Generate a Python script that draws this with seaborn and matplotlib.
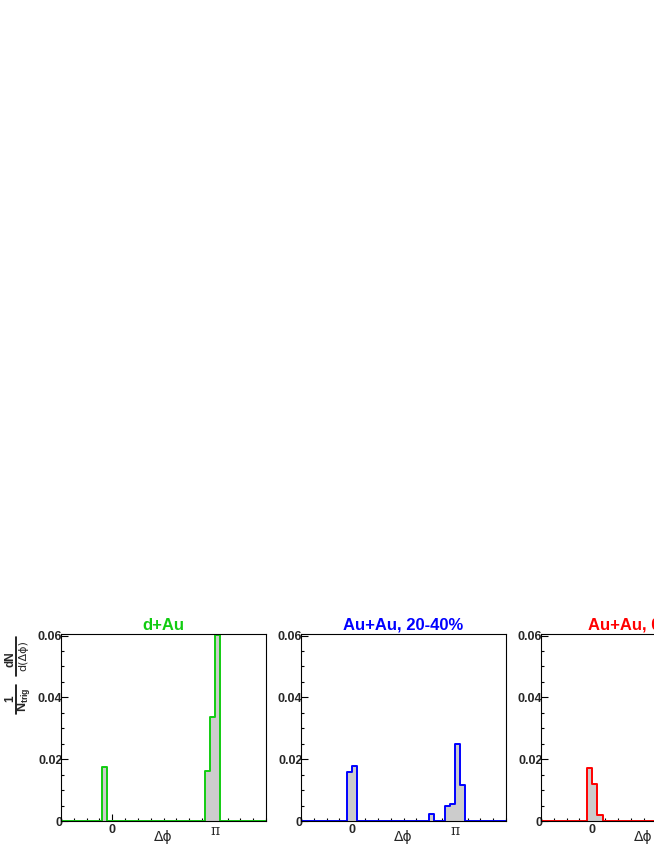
import numpy as np
import pandas as pd
import matplotlib
matplotlib.use('Agg')
import matplotlib.pyplot as plt
import seaborn as sns
from matplotlib.ticker import MultipleLocator
from matplotlib.lines import Line2D

sns.set_style('ticks')
plt.rcParams['font.family'] = ['Liberation Sans', 'DejaVu Sans']
plt.rcParams['mathtext.fontset'] = 'custom'
plt.rcParams['mathtext.bf'] = 'Liberation Sans:bold'
plt.rcParams['mathtext.rm'] = 'Liberation Sans'

# 40 bins of pi/20 from -pi/2 to 3pi/2
phi_edges = -np.pi / 2 + np.arange(41) * np.pi / 20
phi_centers = 0.5 * (phi_edges[:-1] + phi_edges[1:])

# per-trigger yields
dau = [0, 0, 0, 0, 0, 0, 0, 0, 0.0175, 0,
       0, 0, 0, 0, 0, 0, 0, 0, 0, 0,
       0, 0, 0, 0, 0, 0, 0, 0, 0.0162, 0.0335,
       0.0601, 0, 0, 0, 0, 0, 0, 0, 0, 0]
auau_2040 = [0, 0, 0, 0, 0, 0, 0, 0, 0, 0.0160,
             0.0178, 0, 0, 0, 0, 0, 0, 0, 0, 0,
             0, 0, 0, 0, 0, 0.0024, 0, 0, 0.0050, 0.0054,
             0.0250, 0.0115, 0, 0, 0, 0, 0, 0, 0, 0]
auau_central = [0, 0, 0, 0, 0, 0, 0, 0, 0, 0.0170,
                0.0121, 0.0021, 0, 0, 0, 0, 0, 0, 0, 0,
                0, 0, 0, 0, 0, 0, 0, 0, 0, 0,
                0, 0, 0, 0, 0, 0, 0, 0, 0, 0]

titles = ['d+Au', 'Au+Au, 20-40%', 'Au+Au, 0-10%']
colors = ['#11cc11', '#0000ff', '#ff0000']
series = [dau, auau_2040, auau_central]

W, H = 654, 846
fig = plt.figure(figsize=(W / 100, H / 100), dpi=100)
lefts = [61, 301, 541]

for left, title, color, vals in zip(lefts, titles, colors, series):
    ax = fig.add_axes([left / W, 25 / H, 205 / W, 187 / H])
    df = pd.DataFrame({'dphi': phi_centers, 'yield': vals})
    # grey fill, then coloured step outline on top
    sns.histplot(data=df, x='dphi', weights='yield', bins=list(phi_edges),
                 element='bars', fill=True, color='#cccccc', alpha=1,
                 edgecolor='none', linewidth=0, ax=ax)
    sns.histplot(data=df, x='dphi', weights='yield', bins=list(phi_edges),
                 element='step', fill=False, color=color, linewidth=1.4, ax=ax)
    ax.set_xlim(-np.pi / 2, 3 * np.pi / 2)
    ax.set_ylim(0, 0.0605)
    ax.set_xlabel('')
    ax.set_ylabel('')
    ax.set_xticks([0, np.pi])
    ax.set_xticklabels(['0', 'π'])
    ax.xaxis.set_minor_locator(MultipleLocator(np.pi / 8))
    ax.set_yticks([0, 0.02, 0.04, 0.06])
    ax.set_yticklabels(['0', '0.02', '0.04', '0.06'])
    ax.yaxis.set_minor_locator(MultipleLocator(0.005))
    ax.tick_params(which='major', direction='in', length=5, width=0.8, color='black')
    ax.tick_params(which='minor', direction='in', length=2.5, width=0.8, color='black')
    ax.tick_params(axis='y', which='both', pad=-1, labelsize=9)
    ax.tick_params(axis='x', which='both', pad=2, labelsize=9)
    for lab in ax.get_yticklabels():
        lab.set_fontweight('bold')
    xl = ax.get_xticklabels()
    xl[0].set_fontweight('bold')
    xl[1].set_family('DejaVu Serif')
    xl[1].set_fontsize(10)
    for sp in ax.spines.values():
        sp.set_color('black')
        sp.set_linewidth(0.8)
    ax.set_title(title, color=color, fontweight='bold', fontsize=12, pad=3)
    ax.text(0.5, -0.088, 'Δϕ', transform=ax.transAxes, family='DejaVu Sans',
            ha='center', va='center', fontsize=10)

# y axis title drawn as a stacked fraction, rotated
rot = dict(rotation=90, ha='center', va='center')
fig.text(10 / W, 1 - 699 / H, '1', fontsize=8.5, fontweight='bold', **rot)
fig.text(23.5 / W, 1 - 700 / H, r'$\mathbf{N}_{\mathbf{trig}}$', fontsize=9, **rot)
fig.text(10 / W, 1 - 659 / H, 'dN', fontsize=8.5, fontweight='bold', **rot)
fig.text(23 / W, 1 - 656 / H, 'd(Δϕ)', fontsize=8, family='DejaVu Sans', **rot)
fig.add_artist(Line2D([15.5 / W, 15.5 / W], [1 - 637 / H, 1 - 676 / H],
                      transform=fig.transFigure, color='black', lw=1.2))
fig.add_artist(Line2D([15.5 / W, 15.5 / W], [1 - 685 / H, 1 - 714 / H],
                      transform=fig.transFigure, color='black', lw=1.2))

fig.savefig('out.png', dpi=100)
